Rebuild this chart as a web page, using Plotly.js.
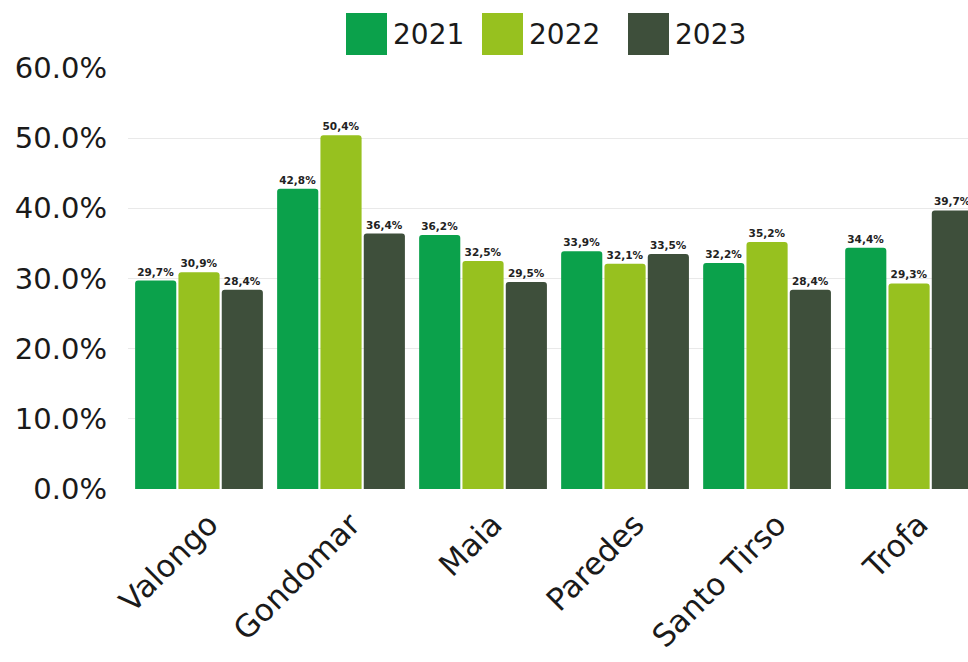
<!DOCTYPE html>
<html>
<head>
<meta charset="utf-8">
<script src="https://cdn.plot.ly/plotly-3.0.1.min.js"></script>
<style>html,body{margin:0;padding:0;background:#fff;}#chart{width:968px;height:662px;}</style>
</head>
<body>
<div id="chart"></div>
<script>
const categories = ["Valongo", "Gondomar", "Maia", "Paredes", "Santo Tirso", "Trofa"];
const seriesNames = ["2021", "2022", "2023"];
const values2021 = [29.7, 42.8, 36.2, 33.9, 32.2, 34.4];
const values2022 = [30.9, 50.4, 32.5, 32.1, 35.2, 29.3];
const values2023 = [28.4, 36.4, 29.5, 33.5, 28.4, 39.7];
const yTickValues = [0, 10, 20, 30, 40, 50, 60];
const yTickLabels = ["0.0%", "10.0%", "20.0%", "30.0%", "40.0%", "50.0%", "60.0%"];

const colors = ["#0ba14b", "#97c11f", "#3e4f3b"];
const allValues = [values2021, values2022, values2023];
const fmt = v => v.toFixed(1).replace('.', ',') + '%';
const FONT = 'DejaVu Sans';

const traces = allValues.map((vals, i) => ({
  type: 'bar',
  name: seriesNames[i],
  x: categories,
  y: vals,
  text: vals.map(fmt),
  textposition: 'outside',
  textfont: {family: FONT, size: 10.5, color: '#222', weight: 'bold'},
  marker: {color: colors[i], cornerradius: 3},
  showlegend: false,
  hoverinfo: 'skip'
}));

// plot area in px
const L = 128, R = 968, T = 68, B = 489;
const px = x => (x - L) / (R - L);
const py = y => (B - y) / (B - T);

const legendX = [346, 482, 628];
const shapes = [];
const annotations = [];
seriesNames.forEach((n, i) => {
  shapes.push({type: 'rect', xref: 'paper', yref: 'paper',
    x0: px(legendX[i]), x1: px(legendX[i] + 41), y0: py(55), y1: py(13),
    fillcolor: colors[i], line: {width: 0}});
  annotations.push({xref: 'paper', yref: 'paper', x: px(legendX[i] + 45), y: py(35),
    xanchor: 'left', yanchor: 'middle', text: n, showarrow: false,
    font: {family: FONT, size: 28, color: '#1a1a1a'}});
});

const layout = {
  width: 968, height: 662,
  margin: {l: L, r: 0, t: T, b: 662 - B},
  paper_bgcolor: '#fff', plot_bgcolor: '#fff',
  barmode: 'group',
  bargap: 0.085,
  bargroupgap: 0.05,
  showlegend: false,
  xaxis: {
    type: 'category',
    range: [-0.5, 5.415],
    tickangle: -45,
    tickfont: {family: FONT, size: 31, color: '#1a1a1a'},
    showline: false, showgrid: false, zeroline: false, ticks: '',
    ticklabelshift: 10, ticklabelstandoff: 10
  },
  yaxis: {
    range: [0, 60],
    tickvals: yTickValues,
    ticktext: yTickLabels,
    tickfont: {family: FONT, size: 29, color: '#1a1a1a'},
    showgrid: true, gridcolor: '#e9e9e9', gridwidth: 1,
    zeroline: false, showline: false, ticks: '', ticklabelstandoff: 20
  },
  shapes: shapes,
  annotations: annotations
};

Plotly.newPlot('chart', traces, layout, {staticPlot: true, displayModeBar: false});
</script>
</body>
</html>
